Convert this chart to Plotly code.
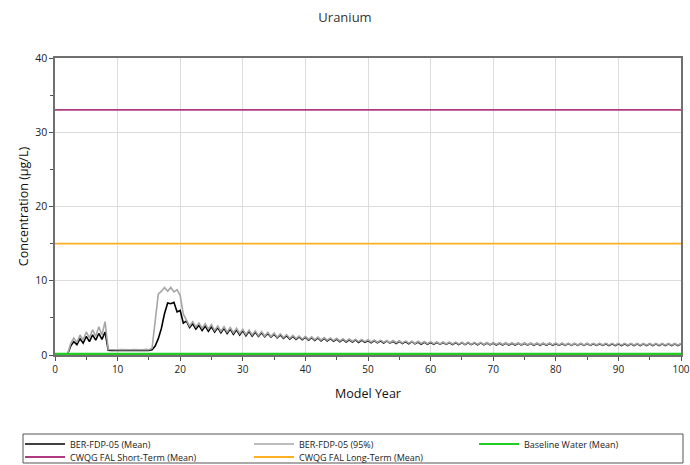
import plotly.graph_objects as go

title_text = "Uranium"
x_title = "Model Year"
y_title = "Concentration (µg/L)"

# half-year sampling grid, 0..100
years = [i * 0.5 for i in range(201)]

mean_vals = [
    0.1, 0.1, 0.1, 0.1, 0.1,                      # 0.0-2.0
    1.2, 1.8, 1.4, 2.2, 1.6, 2.5, 1.8, 2.7, 2.0, 2.9, 2.1, 3.1,  # 2.5-8.0
    0.65, 0.6, 0.65, 0.6, 0.65, 0.6, 0.65, 0.6, 0.65, 0.6, 0.65, 0.6, 0.65, 0.6,  # 8.5-15.0
    0.7, 1.2, 2.2, 3.6, 5.6, 7.0, 6.9, 7.1, 5.8, 6.0, 4.3,  # 15.5-20.5
    4.6, 3.7, 4.2, 3.5, 4.0, 3.3, 3.9, 3.2, 3.8, 3.1,       # 21.0-25.5
    3.7, 3.0, 3.6, 2.9, 3.5, 2.8, 3.4, 2.7, 3.3, 2.6,       # 26.0-30.5
    3.2, 2.55, 3.1, 2.5, 3.0, 2.45, 2.9, 2.4, 2.8, 2.3,     # 31.0-35.5
    2.7, 2.25, 2.6, 2.15, 2.5, 2.1, 2.45, 2.05, 2.4, 2.0,   # 36.0-40.5
    2.35, 1.95, 2.3, 1.9, 2.25, 1.9, 2.2, 1.85, 2.15, 1.8,  # 41.0-45.5
    2.1, 1.75, 2.05, 1.75, 2.05, 1.7, 2.0, 1.7, 1.95, 1.65, # 46.0-50.5
    1.95, 1.65, 1.9, 1.6, 1.9, 1.6, 1.85, 1.55, 1.85, 1.55, # 51.0-55.5
    1.8, 1.5, 1.8, 1.5, 1.75, 1.45, 1.75, 1.45, 1.7, 1.45,  # 56.0-60.5
    1.7, 1.44, 1.69, 1.43, 1.68, 1.42, 1.67, 1.41, 1.66, 1.4,  # 61.0-65.5
    1.65, 1.39, 1.64, 1.38, 1.63, 1.37, 1.62, 1.36, 1.61, 1.35,  # 66.0-70.5
    1.6, 1.35, 1.6, 1.34, 1.59, 1.34, 1.59, 1.33, 1.58, 1.33,  # 71.0-75.5
    1.57, 1.32, 1.57, 1.32, 1.56, 1.31, 1.56, 1.31, 1.55, 1.3,  # 76.0-80.5
    1.55, 1.3, 1.54, 1.3, 1.54, 1.3, 1.53, 1.29, 1.53, 1.29,  # 81.0-85.5
    1.52, 1.29, 1.52, 1.29, 1.52, 1.28, 1.51, 1.28, 1.51, 1.28,  # 86.0-90.5
    1.51, 1.28, 1.5, 1.28, 1.5, 1.28, 1.5, 1.28, 1.5, 1.28,  # 91.0-95.5
    1.5, 1.28, 1.5, 1.28, 1.5, 1.28, 1.5, 1.28, 1.5,        # 96.0-100.0
]

p95_vals = [
    0.1, 0.1, 0.1, 0.1, 0.1,                      # 0.0-2.0
    1.5, 2.3, 1.7, 2.7, 2.0, 3.1, 2.3, 3.4, 2.5, 3.8, 2.7, 4.5,  # 2.5-8.0
    0.75, 0.7, 0.75, 0.7, 0.75, 0.7, 0.75, 0.7, 0.75, 0.7, 0.75, 0.7, 0.75, 0.7,  # 8.5-15.0
    0.9, 5.0, 8.2, 8.6, 9.1, 8.6, 9.1, 8.5, 8.8, 8.0, 5.5,  # 15.5-20.5
    4.7, 3.9, 4.5, 3.8, 4.3, 3.6, 4.2, 3.5, 4.1, 3.3,       # 21.0-25.5
    3.9, 3.2, 3.8, 3.1, 3.7, 3.0, 3.6, 2.9, 3.45, 2.75,     # 26.0-30.5
    3.35, 2.7, 3.25, 2.6, 3.15, 2.55, 3.05, 2.5, 2.95, 2.4, # 31.0-35.5
    2.85, 2.35, 2.75, 2.25, 2.65, 2.2, 2.55, 2.15, 2.5, 2.1,  # 36.0-40.5
    2.45, 2.05, 2.4, 2.0, 2.35, 2.0, 2.3, 1.95, 2.25, 1.9,  # 41.0-45.5
    2.2, 1.85, 2.15, 1.85, 2.1, 1.8, 2.1, 1.8, 2.05, 1.75,  # 46.0-50.5
    2.0, 1.7, 2.0, 1.7, 1.95, 1.65, 1.95, 1.65, 1.9, 1.6,   # 51.0-55.5
    1.9, 1.6, 1.85, 1.55, 1.85, 1.55, 1.8, 1.5, 1.8, 1.5,   # 56.0-60.5
    1.76, 1.49, 1.75, 1.48, 1.74, 1.47, 1.73, 1.46, 1.72, 1.45,  # 61.0-65.5
    1.71, 1.44, 1.7, 1.43, 1.69, 1.42, 1.68, 1.41, 1.67, 1.4,  # 66.0-70.5
    1.66, 1.4, 1.65, 1.39, 1.64, 1.39, 1.64, 1.38, 1.63, 1.38,  # 71.0-75.5
    1.62, 1.37, 1.62, 1.37, 1.61, 1.36, 1.61, 1.36, 1.6, 1.35,  # 76.0-80.5
    1.6, 1.35, 1.59, 1.35, 1.59, 1.35, 1.58, 1.34, 1.58, 1.34,  # 81.0-85.5
    1.57, 1.34, 1.57, 1.34, 1.57, 1.33, 1.56, 1.33, 1.56, 1.33,  # 86.0-90.5
    1.56, 1.33, 1.55, 1.33, 1.55, 1.33, 1.55, 1.33, 1.55, 1.33,  # 91.0-95.5
    1.55, 1.33, 1.55, 1.33, 1.55, 1.33, 1.55, 1.33, 1.55,   # 96.0-100.0
]

baseline_value = 0.15
short_term_value = 33
long_term_value = 15
x_range = [0, 100]
y_range = [0, 40]

series_names = [
    "BER-FDP-05 (Mean)",
    "BER-FDP-05 (95%)",
    "Baseline Water (Mean)",
    "CWQG FAL Short-Term (Mean)",
    "CWQG FAL Long-Term (Mean)",
]
series_colors = ["#000000", "#a6a6a6", "#22cc22", "#b03a7f", "#ffb020"]

FONT = "Open Sans, Arial, sans-serif"

# plot area in pixels (for placing legend pieces)
L, R, T, B = 55, 9, 58, 110
W, H = 690, 465
pw, ph = W - L - R, H - T - B


def px_x(px):
    return (px - L) / pw


def px_y(py):
    return (H - B - py) / ph


fig = go.Figure()
fig.add_trace(go.Scatter(x=years, y=mean_vals, mode="lines", name=series_names[0],
                         line=dict(color=series_colors[0], width=1.6), legend="legend"))
fig.add_trace(go.Scatter(x=years, y=p95_vals, mode="lines", name=series_names[1],
                         line=dict(color=series_colors[1], width=1.6), legend="legend2"))
fig.add_trace(go.Scatter(x=x_range, y=[baseline_value] * 2, mode="lines", name=series_names[2],
                         line=dict(color=series_colors[2], width=2.2), legend="legend3"))
fig.add_trace(go.Scatter(x=x_range, y=[short_term_value] * 2, mode="lines", name=series_names[3],
                         line=dict(color=series_colors[3], width=1.8), legend="legend4"))
fig.add_trace(go.Scatter(x=x_range, y=[long_term_value] * 2, mode="lines", name=series_names[4],
                         line=dict(color=series_colors[4], width=1.8), legend="legend5"))

axis_common = dict(
    showline=True, linecolor="#707070", linewidth=1.5, mirror=True,
    showgrid=True, gridcolor="#dcdcdc", gridwidth=1,
    ticks="outside", ticklen=4, tickcolor="#505050",
    zeroline=False, dtick=10,
    minor=dict(ticks="outside", ticklen=3, dtick=5, tickcolor="#505050", showgrid=False),
)

fig.update_xaxes(range=x_range, title=dict(text=x_title, standoff=14,
                 font=dict(family=FONT, size=12.5, color="#111111")),
                 tickfont=dict(family=FONT, size=10, color="#222222"), **axis_common)
fig.update_yaxes(range=y_range, title=dict(text=y_title, standoff=4,
                 font=dict(family=FONT, size=12.5, color="#111111")),
                 tickfont=dict(family=FONT, size=10.5, color="#222222"), **axis_common)


def leg(px_left, py_center):
    return dict(
        orientation="v", x=px_x(px_left), xanchor="left", y=px_y(py_center), yanchor="middle",
        borderwidth=0, bgcolor="rgba(0,0,0,0)",
        font=dict(family=FONT, size=9, color="#222222"),
        itemwidth=40,
    )


fig.update_layout(
    width=W, height=H,
    margin=dict(l=L, r=R, t=T, b=B, autoexpand=False),
    paper_bgcolor="white", plot_bgcolor="white",
    title=dict(text=title_text, x=0.5, xanchor="center", y=1 - 17 / H, yanchor="middle",
               font=dict(family=FONT, size=13, color="#333333")),
    showlegend=True,
    legend=leg(20, 444),
    legend2=leg(249, 444),
    legend3=leg(474, 444),
    legend4=leg(20, 457),
    legend5=leg(249, 457),
    shapes=[dict(type="rect", xref="paper", yref="paper",
                 x0=px_x(23), x1=px_x(683), y0=px_y(463), y1=px_y(434),
                 line=dict(color="#555555", width=1), fillcolor="rgba(0,0,0,0)", layer="above")],
)

fig.write_html(
    "out.html",
    config={"displayModeBar": False},
    post_script="document.body.style.margin='0';document.body.style.padding='0';document.body.style.overflow='hidden';",
)
